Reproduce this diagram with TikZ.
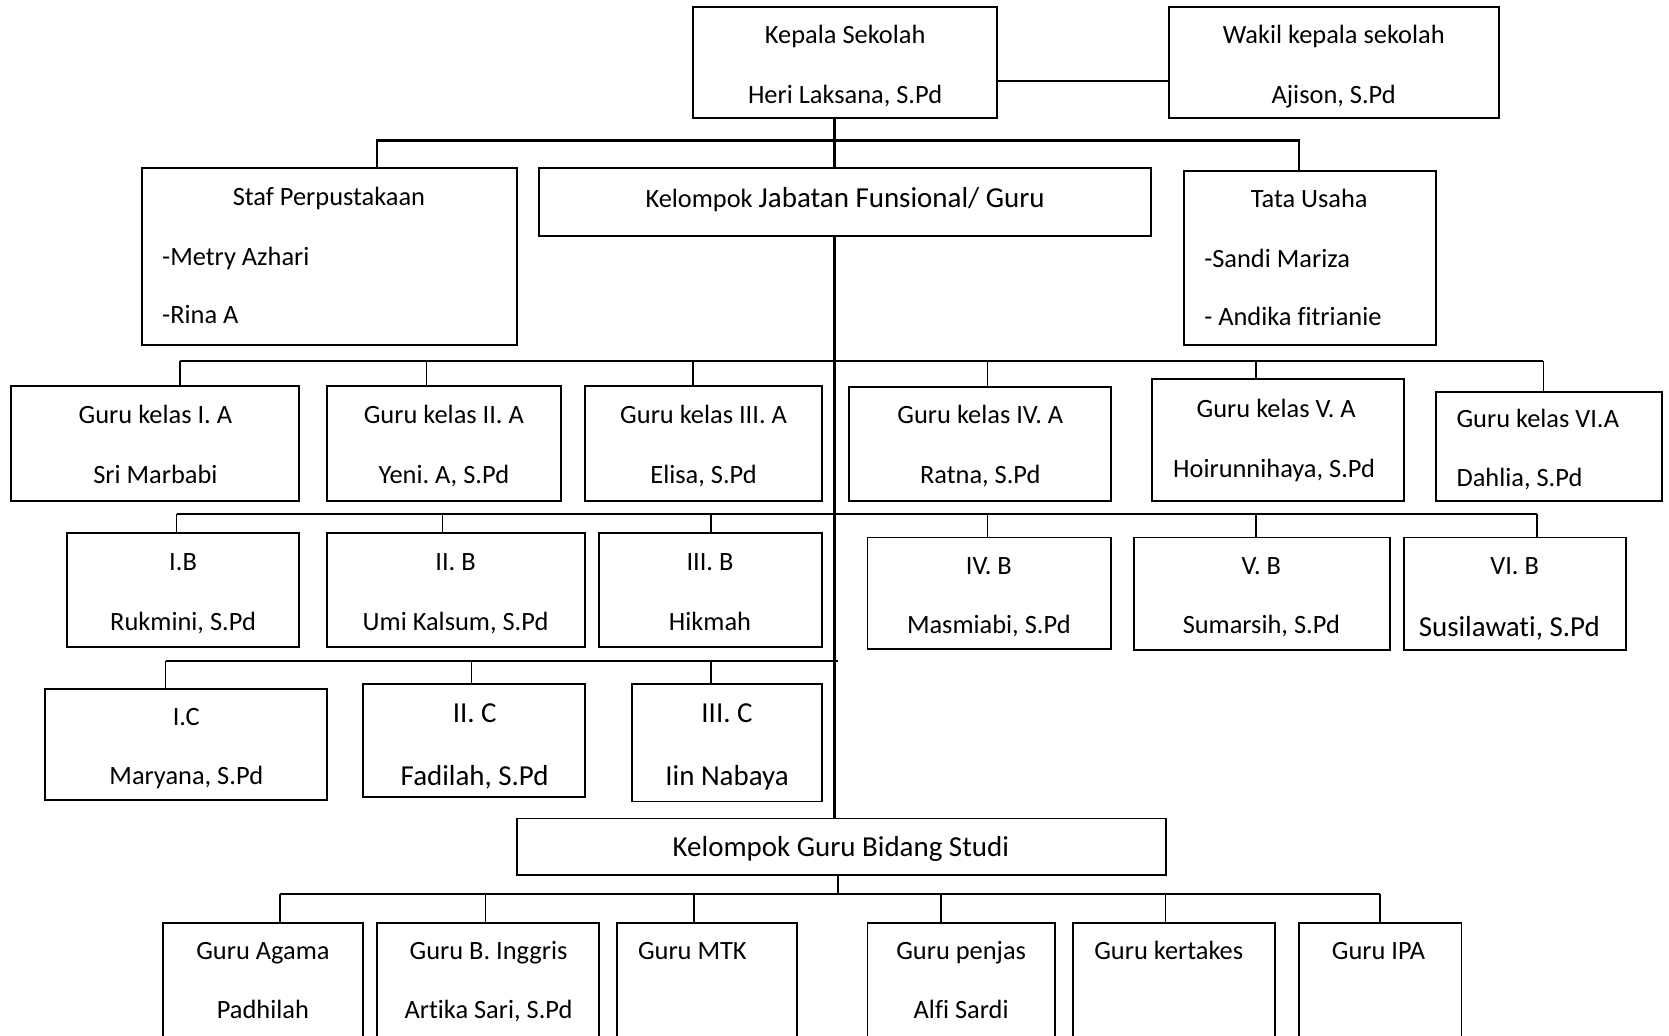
\documentclass[tikz,border=0pt]{standalone}
\usepackage{fontspec}
\setmainfont{Carlito}[Ligatures=CommonOff]
\usetikzlibrary{fit}
\frenchspacing
\newcommand\normsz{\fontsize{12.4pt}{14pt}\selectfont\frenchspacing}
\newcommand\bigsz{\fontsize{13.6pt}{15pt}\selectfont\frenchspacing}
\tikzset{
  box/.style={draw, line width=0.9pt, inner sep=0pt, fit={#1}},
  txt/.style={inner sep=0pt, text height=0.7em, text depth=0.2em, font=\normsz, yshift=-1.5pt},
  bigtxt/.style={inner sep=0pt, text height=0.7em, text depth=0.2em, font=\bigsz, yshift=-1.5pt},
  bus/.style={line width=1pt},
  drop/.style={line width=0.6pt},
}
\begin{document}
\begin{tikzpicture}[x=0.5pt,y=-0.5pt]
\clip (0,0) rectangle (1568,973);
\fill[white] (0,0) rectangle (1568,973);

% ---------- top ----------
\node[box={(651,7) (937,111)}] (kepala) {};
\node[txt] (kepalaA) at (794,33) {Kepala Sekolah};
\node[txt] (kepalaB) at (794,89) {Heri Laksana, S.Pd};

\node[box={(1098,7) (1408,111)}] (wakil) {};
\node[txt] (wakilA) at (1253,33) {Wakil kepala sekolah};
\node[txt] (wakilB) at (1253,89) {Ajison, S.Pd};

\node[box={(133,158) (486,324)}] (staf) {};
\node[txt] (stafA) at (309,185) {Staf Perpustakaan};
\node[txt,anchor=west] (stafB) at (152,241) {-Metry Azhari};
\node[txt,anchor=west] (stafC) at (152,296) {-Rina A};

\node[box={(506,158) (1081,222)}] (keljab) {};
\node[txt] (keljabA) at (794,187) {Kelompok {\bigsz Jabatan Funsional/ Guru}};

\node[box={(1112,161) (1349,324)}] (tata) {};
\node[txt] (tataA) at (1230,187) {Tata Usaha};
\node[txt,anchor=west] (tataB) at (1131,243) {-Sandi Mariza};
\node[txt,anchor=west] (tataC) at (1131,298) {- Andika fitrianie};

% ---------- row A ----------
\node[box={(10,363) (281,471)}] (ia) {};
\node[txt] (iaA) at (146,390) {Guru kelas I. A};
\node[txt] (iaB) at (146,446) {Sri Marbabi};
\node[box={(307,363) (527,471)}] (iia) {};
\node[txt] (iiaA) at (417,390) {Guru kelas II. A};
\node[txt] (iiaB) at (417,446) {Yeni. A, S.Pd};
\node[box={(550,363) (772,471)}] (iiia) {};
\node[txt] (iiiaA) at (661,390) {Guru kelas III. A};
\node[txt] (iiiaB) at (661,446) {Elisa, S.Pd};
\node[box={(798,364) (1044,471)}] (iva) {};
\node[txt] (ivaA) at (921,390) {Guru kelas IV. A};
\node[txt] (ivaB) at (921,446) {Ratna, S.Pd};
\node[box={(1082,356) (1319,471)}] (va) {};
\node[txt] (vaA) at (1199,384) {Guru kelas V. A};
\node[txt] (vaB) at (1197,441) {Hoirunnihaya, S.Pd};
\node[box={(1349,368) (1561,471)}] (via) {};
\node[txt,anchor=west] (viaA) at (1368,394) {Guru kelas VI.A};
\node[txt,anchor=west] (viaB) at (1368,449) {Dahlia, S.Pd};

% ---------- row B ----------
\node[box={(63,501) (281,608)}] (ib) {};
\node[txt] (ibA) at (172,528) {I.B};
\node[txt] (ibB) at (172,584) {Rukmini, S.Pd};
\node[box={(307,501) (550,608)}] (iib) {};
\node[txt] (iibA) at (428,528) {II. B};
\node[txt] (iibB) at (428,584) {Umi Kalsum, S.Pd};
\node[box={(563,501) (772,608)}] (iiib) {};
\node[txt] (iiibA) at (667,528) {III. B};
\node[txt] (iiibB) at (667,584) {Hikmah};
\node[box={(815,505) (1044,610)}] (ivb) {};
\node[txt] (ivbA) at (929,532) {IV. B};
\node[txt] (ivbB) at (929,587) {Masmiabi, S.Pd};
\node[box={(1065,505) (1306,611)}] (vb) {};
\node[txt] (vbA) at (1185,532) {V. B};
\node[txt] (vbB) at (1185,587) {Sumarsih, S.Pd};
\node[box={(1319,505) (1528,611)}] (vib) {};
\node[txt] (vibA) at (1423,532) {VI. B};
\node[bigtxt] (vibB) at (1418,590) {Susilawati, S.Pd};

% ---------- row C ----------
\node[box={(42,647) (307,752)}] (ic) {};
\node[txt] (icA) at (175,674) {I.C};
\node[txt] (icB) at (175,729) {Maryana, S.Pd};
\node[box={(341,643) (550,749)}] (iic) {};
\node[bigtxt] (iicA) at (446,671) {II. C};
\node[bigtxt] (iicB) at (446,730) {Fadilah, S.Pd};
\node[box={(594,643) (772,753)}] (iiic) {};
\node[bigtxt] (iiicA) at (683,671) {III. C};
\node[bigtxt] (iiicB) at (683,730) {Iin Nabaya};

% ---------- bidang studi ----------
\node[box={(486,769) (1095,822)}] (kgbs) {};
\node[bigtxt] (kgbsA) at (790,797) {Kelompok Guru Bidang Studi};

\node[box={(153,867) (341,995)}] (agama) {};
\node[txt] (agamaA) at (247,893) {Guru Agama};
\node[txt] (agamaB) at (247,949) {Padhilah};
\node[box={(354,867) (563,995)}] (inggris) {};
\node[txt] (inggrisA) at (459,893) {Guru B. Inggris};
\node[txt] (inggrisB) at (459,949) {Artika Sari, S.Pd};
\node[box={(580,867) (749,995)}] (mtk) {};
\node[txt,anchor=west] (mtkA) at (599,893) {Guru MTK};
\node[box={(815,867) (991,995)}] (penjas) {};
\node[txt] (penjasA) at (903,893) {Guru penjas};
\node[txt] (penjasB) at (903,949) {Alfi Sardi};
\node[box={(1008,867) (1198,995)}] (kertakes) {};
\node[txt] (kertakesA) at (1098,893) {Guru kertakes};
\node[box={(1220,867) (1373,995)}] (ipa) {};
\node[txt] (ipaA) at (1295,893) {Guru IPA};

% ---------- connectors ----------
\coordinate (kw) at (937,76);
\draw[bus] (kw) -- (kw -| wakil.west);

\coordinate (vt) at (784,132);
\coordinate (tb1) at (354,132);
\coordinate (tb2) at (1220,132);
\draw[bus] (vt |- kepala.south) -- (vt |- keljab.north);
\draw[bus] (tb1 |- staf.north) -- (tb1) -- (tb2) -- (tb2 |- tata.north);
\draw[bus] (vt |- keljab.south) -- (vt |- kgbs.north);

% row A bus
\coordinate (ra1) at (169,339);
\coordinate (ra2) at (401,339);
\coordinate (ra3) at (651,339);
\coordinate (ra4) at (928,339);
\coordinate (ra5) at (1180,339);
\coordinate (ra6) at (1450,339);
\draw[bus] (ra1) -- (ra6);
\draw[drop] (ra1) -- (ra1 |- ia.north);
\draw[drop] (ra2) -- (ra2 |- iia.north);
\draw[drop] (ra3) -- (ra3 |- iiia.north);
\draw[drop] (ra4) -- (ra4 |- iva.north);
\draw[drop] (ra5) -- (ra5 |- va.north);
\draw[drop] (ra6) -- (ra6 |- via.north);

% row B bus
\coordinate (rb1) at (166,483);
\coordinate (rb2) at (416,483);
\coordinate (rb3) at (668,483);
\coordinate (rb4) at (928,483);
\coordinate (rb5) at (1180,483);
\coordinate (rb6) at (1444,483);
\draw[bus] (rb1) -- (rb6);
\draw[drop] (rb1) -- (rb1 |- ib.north);
\draw[drop] (rb2) -- (rb2 |- iib.north);
\draw[drop] (rb3) -- (rb3 |- iiib.north);
\draw[drop] (rb4) -- (rb4 |- ivb.north);
\draw[drop] (rb5) -- (rb5 |- vb.north);
\draw[bus] (rb6) -- (rb6 |- vib.north);

% row C bus
\coordinate (rc1) at (155.5,621);
\coordinate (rc2) at (443,621);
\coordinate (rc3) at (668,621);
\coordinate (rc4) at (787,621);
\draw[bus] (rc1) -- (rc4);
\draw[drop] (rc1) -- (rc1 |- ic.north);
\draw[drop] (rc2) -- (rc2 |- iic.north);
\draw[drop] (rc3) -- (rc3 |- iiic.north);

% bidang studi bus
\coordinate (bb0) at (787,840);
\coordinate (bb1) at (263,840);
\coordinate (bb2) at (456,840);
\coordinate (bb3) at (652,840);
\coordinate (bb4) at (884,840);
\coordinate (bb5) at (1095,840);
\coordinate (bb6) at (1296.5,840);
\draw[bus] (bb0 |- kgbs.south) -- (bb0);
\draw[bus] (bb1) -- (bb6);
\draw[drop] (bb1) -- (bb1 |- agama.north);
\draw[drop] (bb2) -- (bb2 |- inggris.north);
\draw[drop] (bb3) -- (bb3 |- mtk.north);
\draw[drop] (bb4) -- (bb4 |- penjas.north);
\draw[drop] (bb5) -- (bb5 |- kertakes.north);
\draw[drop] (bb6) -- (bb6 |- ipa.north);
\end{tikzpicture}
\end{document}
